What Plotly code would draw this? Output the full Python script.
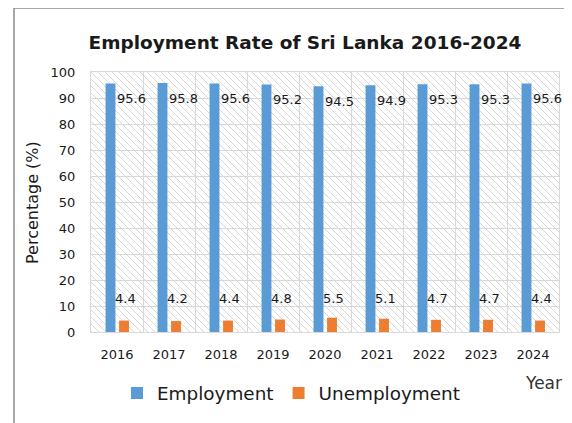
import plotly.graph_objects as go
import urllib.parse

years = ["2016", "2017", "2018", "2019", "2020", "2021", "2022", "2023", "2024"]
employment = [95.6, 95.8, 95.6, 95.2, 94.5, 94.9, 95.3, 95.3, 95.6]
unemployment = [4.4, 4.2, 4.4, 4.8, 5.5, 5.1, 4.7, 4.7, 4.4]
yticks = [0, 10, 20, 30, 40, 50, 60, 70, 80, 90, 100]

BLUE = "#5B9BD5"
ORANGE = "#ED7D31"
GRID = "#d9d9d9"
FONT = "DejaVu Sans"

# page body has an 8px margin; work in reference pixel coords and offset
OFF = 8
W, H = 572 - OFF, 423 - OFF
PL, PR, PT, PB = 91, 559, 72, 332          # plot area in reference pixels
ML, MR, MT, MB = PL - OFF, (572 - PR), PT - OFF, (423 - PB)
PW, PH = PR - PL, PB - PT


def px(xr):
    return (xr - PL) / PW


def py(yr):
    return (PB - yr) / PH


fig = go.Figure()
fig.add_trace(go.Bar(name="Employment", x=years, y=employment,
                     marker=dict(color=BLUE, line=dict(width=0)),
                     width=0.19, offset=-0.22))
fig.add_trace(go.Bar(name="Unemployment", x=years, y=unemployment,
                     marker=dict(color=ORANGE, line=dict(width=0)),
                     width=0.19, offset=0.04))

# data labels (positioned by category index on the category axis)
for i, v in enumerate(employment):
    fig.add_annotation(x=i, y=v - 5.8, text=f"{v}", showarrow=False,
                       xanchor="left", xshift=-2, yanchor="middle",
                       font=dict(family=FONT, size=13, color="#1a1a1a"))
for i, v in enumerate(unemployment):
    fig.add_annotation(x=i, y=13, text=f"{v}", showarrow=False,
                       xanchor="center", xshift=8, yanchor="middle",
                       font=dict(family=FONT, size=13, color="#1a1a1a"))

# axis titles
fig.add_annotation(xref="paper", yref="paper", x=px(543), y=py(383),
                   text="Year", showarrow=False, xanchor="center", yanchor="middle",
                   font=dict(family=FONT, size=17, color="#333333"))
fig.add_annotation(xref="paper", yref="paper", x=px(32), y=py(203),
                   text="Percentage (%)", showarrow=False, textangle=-90,
                   xanchor="center", yanchor="middle",
                   font=dict(family=FONT, size=16, color="#1a1a1a"))

# hatched plot background (decoration)
svg = (f'<svg xmlns="http://www.w3.org/2000/svg" width="{PW}" height="{PH}" viewBox="0 0 {PW} {PH}">'
       '<defs><pattern id="h" width="7" height="7" patternUnits="userSpaceOnUse">'
       '<rect width="7" height="7" fill="white"/>'
       '<path d="M0,0 L7,7 M-1,6 L1,8 M6,-1 L8,1" stroke="#d8d8d8" stroke-width="1"/>'
       '</pattern></defs>'
       f'<rect width="{PW}" height="{PH}" fill="url(#h)"/></svg>')
src = "data:image/svg+xml;charset=utf-8," + urllib.parse.quote(svg)
fig.add_layout_image(dict(source=src, xref="paper", yref="paper", x=0, y=1,
                          sizex=1, sizey=1, sizing="stretch", layer="below",
                          xanchor="left", yanchor="top"))

# outer frame
fig.add_shape(type="path", xref="paper", yref="paper",
              path=f"M {px(14)} {py(430)} L {px(14)} {py(8)} L {px(580)} {py(8)}",
              line=dict(color="#8c8c8c", width=1.5))

fig.update_layout(
    width=W, height=H,
    margin=dict(l=ML, r=MR, t=MT, b=MB),
    paper_bgcolor="white",
    plot_bgcolor="rgba(0,0,0,0)",
    title=dict(text="Employment Rate of Sri Lanka 2016-2024",
               x=(305 - OFF) / W, xanchor="center",
               y=1 - (43 - OFF) / H, yanchor="middle",
               font=dict(family=FONT, size=18.5, color="#1a1a1a", weight="bold")),
    barmode="group",
    showlegend=True,
    legend=dict(orientation="h", x=px(117), xanchor="left",
                y=py(393), yanchor="middle",
                font=dict(family=FONT, size=18.4, color="#1a1a1a"),
                bgcolor="rgba(0,0,0,0)"),
    font=dict(family=FONT),
)
fig.update_xaxes(type="category", range=[-0.5, len(years) - 0.5],
                 tickson="boundaries", showgrid=True, gridcolor=GRID,
                 showline=True, linecolor=GRID, mirror=True, ticks="",
                 ticklabelstandoff=10, tickangle=0,
                 tickfont=dict(family=FONT, size=13, color="#1a1a1a"))
fig.update_yaxes(range=[0, 100], tickvals=yticks, showgrid=True, gridcolor=GRID,
                 showline=True, linecolor=GRID, mirror=True,
                 ticks="outside", ticklen=12, tickcolor="rgba(0,0,0,0)",
                 zeroline=False,
                 tickfont=dict(family=FONT, size=13, color="#1a1a1a"))

fig.write_html("out.html")
